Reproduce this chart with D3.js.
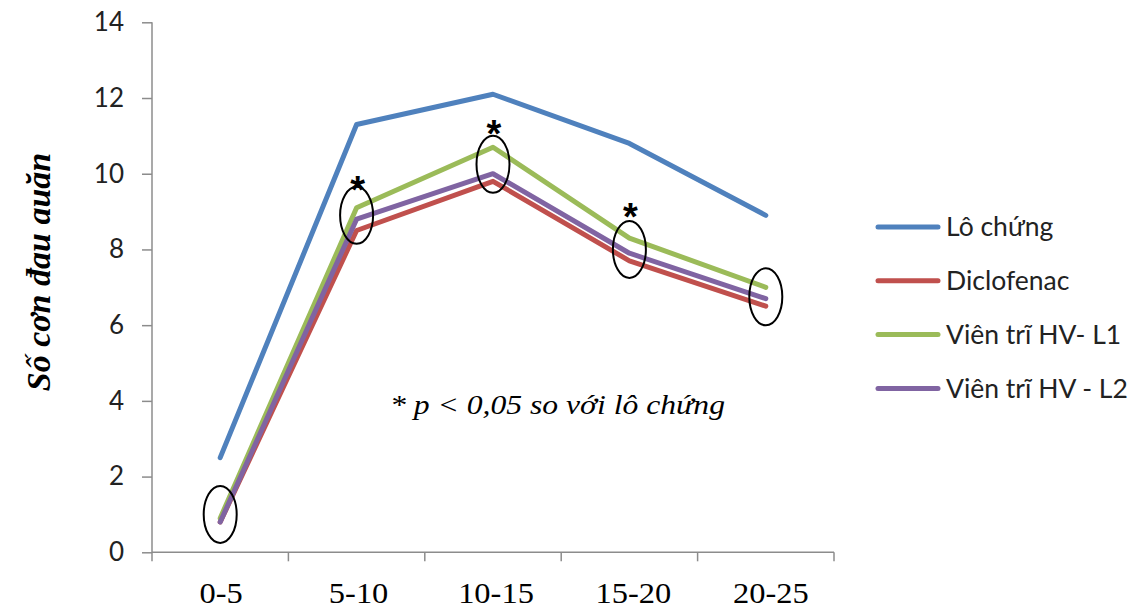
<!DOCTYPE html>
<html><head><meta charset="utf-8">
<script src="https://cdn.jsdelivr.net/npm/d3@7"></script>
<style>body{margin:0;background:#fff}svg{display:block}</style>
</head><body>
<script>
const categories = ["0-5","5-10","10-15","15-20","20-25"];
const seriesNames = ["Lô chứng","Diclofenac","Viên trĩ HV- L1","Viên trĩ HV - L2"];
const loChung   = [2.5, 11.3, 12.1, 10.8, 8.9];
const diclofenac= [0.8, 8.5, 9.8, 7.7, 6.5];
const vienL1    = [0.9, 9.1, 10.7, 8.3, 7.0];
const vienL2    = [0.8, 8.8, 10.0, 7.9, 6.7];
const yTicks = [0,2,4,6,8,10,12,14];
const colors = ["#4F81BD","#C0504D","#9BBB59","#8064A2"];
// circled groups (category, centre value) and significance stars
const circled = [["0-5",1.0],["5-10",8.9],["10-15",10.25],["15-20",8.0],["20-25",6.75]];
const stars = [["5-10",9.8],["10-15",11.3],["15-20",9.1]];
const yLabel = "Số cơn đau auăn";
const note = "* p < 0,05 so với lô chứng";

const W=1137,H=610;
const svg=d3.select("body").append("svg").attr("width",W).attr("height",H);
const x=d3.scaleBand().domain(categories).range([152,834]);
const y=d3.scaleLinear().domain([0,14]).range([552.3,22.3]);
const axisCol="#8c8c8c";
const serif="'Liberation Serif','Times New Roman',serif";
const sans="Lato, 'Open Sans', sans-serif";

// axes
const gy=svg.append("g").attr("transform","translate(152,0)")
 .call(d3.axisLeft(y).tickValues(yTicks).tickSize(10).tickPadding(18));
gy.selectAll("path,line").attr("stroke",axisCol).attr("stroke-width",1.5);
gy.select(".domain").attr("d","M0,"+y(14)+"V"+y(0));
gy.selectAll("text").attr("font-family",sans).attr("font-size",26).attr("fill","#222");

const gx=svg.append("g").attr("transform","translate(0,552.3)");
gx.append("line").attr("x1",152).attr("x2",834).attr("stroke",axisCol).attr("stroke-width",1.5);
const bounds=categories.map(c=>x(c)).concat([x.range()[1]]);
gx.selectAll("line.t").data(bounds).join("line").attr("class","t")
 .attr("x1",d=>d).attr("x2",d=>d).attr("y1",0).attr("y2",9).attr("stroke",axisCol).attr("stroke-width",1.5);
gx.selectAll("text").data(categories).join("text")
 .attr("transform",(d,i)=>"translate("+(x(d)+x.bandwidth()/2+1+i)+",51) scale(1.12,1)")
 .attr("text-anchor","middle")
 .attr("font-family",serif).attr("font-size",29).attr("fill","#000").text(d=>d);

// lines
const seriesVals=[loChung,diclofenac,vienL1,vienL2];
const line=d3.line().x((d,i)=>x(categories[i])+x.bandwidth()/2).y(d=>y(d));
seriesVals.forEach((vals,k)=>{
  svg.append("path").attr("d",line(vals)).attr("fill","none").attr("stroke",colors[k])
   .attr("stroke-width",5).attr("stroke-linejoin","round").attr("stroke-linecap","round");
});

// ellipses
svg.selectAll("ellipse").data(circled).join("ellipse")
 .attr("cx",d=>x(d[0])+x.bandwidth()/2).attr("cy",d=>y(d[1]))
 .attr("rx",16.5).attr("ry",28.5).attr("fill","none").attr("stroke","#000").attr("stroke-width",2);

// stars
svg.selectAll("text.star").data(stars).join("text").attr("class","star")
 .attr("x",d=>x(d[0])+x.bandwidth()/2+1).attr("y",d=>y(d[1])+22)
 .attr("text-anchor","middle").attr("font-family","'Liberation Sans',Arial,sans-serif")
 .attr("font-weight","bold").attr("font-size",38).text("*");

// note
svg.append("text").attr("x",390).attr("y",414).attr("font-family",serif)
 .attr("font-style","italic").attr("font-size",27)
 .attr("textLength",335).attr("lengthAdjust","spacingAndGlyphs").text(note);

// y label
svg.append("text").attr("transform","translate(50,272) rotate(-90)").attr("text-anchor","middle")
 .attr("font-family",serif).attr("font-style","italic").attr("font-weight","bold")
 .attr("font-size",34).text(yLabel);

// legend
const lg=svg.append("g");
seriesNames.forEach((n,i)=>{
  const yy=227+i*53.8;
  lg.append("line").attr("x1",878).attr("x2",938).attr("y1",yy).attr("y2",yy)
   .attr("stroke",colors[i]).attr("stroke-width",5).attr("stroke-linecap","round");
  lg.append("text").attr("x",946).attr("y",yy).attr("dy","0.35em")
   .attr("font-family",sans).attr("font-size",26.5).attr("fill","#222").text(n);
});
</script>
</body></html>
